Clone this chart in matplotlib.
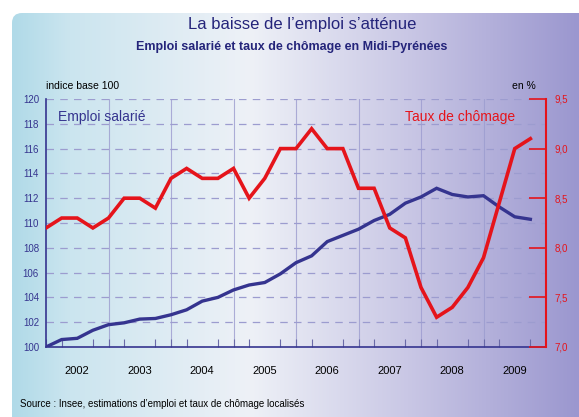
import matplotlib
matplotlib.use('Agg')
import matplotlib.pyplot as plt
import numpy as np
from matplotlib.colors import LinearSegmentedColormap
from matplotlib.patches import FancyBboxPatch

plt.rcParams['font.family'] = ['Liberation Sans', 'DejaVu Sans']

# Data: quarterly values, 2002 Q1 to 2009 Q4
quarters = [2002 + k / 4 for k in range(32)]
emploi = [100.0, 100.6, 100.7, 101.35, 101.8, 101.95, 102.25, 102.3,
          102.6, 103.0, 103.7, 104.0, 104.6, 105.0, 105.2, 105.9,
          106.8, 107.35, 108.5, 109.0, 109.5, 110.2, 110.7, 111.6,
          112.1, 112.8, 112.3, 112.1, 112.2, 111.3, 110.5, 110.3]
chomage = [8.2, 8.3, 8.3, 8.2, 8.3, 8.5, 8.5, 8.4,
           8.7, 8.8, 8.7, 8.7, 8.8, 8.5, 8.7, 9.0,
           9.0, 9.2, 9.0, 9.0, 8.6, 8.6, 8.2, 8.1,
           7.6, 7.3, 7.4, 7.6, 7.9, 8.45, 9.0, 9.1]
years = list(range(2002, 2010))
left_ticks = list(range(100, 121, 2))
right_ticks = [7.0, 7.5, 8.0, 8.5, 9.0, 9.5]

navy = '#35348f'
red = '#e5141b'
grid_col = '#9c9ccf'

W, H = 579, 417
fig = plt.figure(figsize=(W / 100, H / 100), dpi=100)

# background panel with horizontal gradient
bg = fig.add_axes([0, 0, 1, 1], zorder=-10)
bg.set_xlim(0, W)
bg.set_ylim(H, 0)
bg.axis('off')
cmap = LinearSegmentedColormap.from_list(
    'bgc', [(0, '#b0dae8'), (0.1, '#cbe5ef'), (0.42, '#eef1f7'),
            (0.7, '#c9c7e5'), (1, '#9b97cf')])
grad = np.linspace(0, 1, 256).reshape(1, -1)
im = bg.imshow(grad, cmap=cmap, aspect='auto', extent=[12, W, H, 13])
panel = FancyBboxPatch((12, 13), W + 20, H + 20,
                       boxstyle='round,pad=0,rounding_size=10',
                       transform=bg.transData, facecolor='none', edgecolor='none')
bg.add_patch(panel)
im.set_clip_path(panel)

# main axes
ax = fig.add_axes([46 / W, 1 - 347 / H, 500 / W, 248 / H])
ax.patch.set_alpha(0)
ax.set_xlim(2002, 2010)
ax.set_ylim(100, 120)

for v in left_ticks[1:]:
    ax.axhline(v, color=grid_col, lw=0.9, ls=(0, (6, 5)), zorder=1)
for yr in years[1:]:
    ax.axvline(yr, color=grid_col, lw=0.8, alpha=0.8, zorder=1)

ax.plot(quarters, emploi, color=navy, lw=2.4, zorder=3, solid_joinstyle='miter')

ax.set_yticks(left_ticks)
ax.set_yticklabels([str(v) for v in left_ticks], fontsize=7, color=navy)
ax.tick_params(axis='y', length=0, pad=5)
ax.set_xticks([y + 0.5 for y in years])
ax.set_xticklabels([str(y) for y in years], fontsize=8)
ax.set_xticks(quarters, minor=True)
ax.tick_params(axis='x', which='major', length=0, pad=14)
ax.tick_params(axis='x', which='minor', direction='in', length=6,
               color='#6a6aa8', width=0.8)
for s in ['top', 'right']:
    ax.spines[s].set_visible(False)
ax.spines['left'].set_color(navy)
ax.spines['bottom'].set_color(navy)
ax.spines['left'].set_linewidth(1.2)
ax.spines['bottom'].set_linewidth(1.2)

ax2 = ax.twinx()
ax2.set_ylim(7.0, 9.5)
ax2.plot(quarters, chomage, color=red, lw=2.6, zorder=4, solid_joinstyle='miter')
ax2.set_yticks(right_ticks)
ax2.set_yticklabels([f'{v:.1f}'.replace('.', ',') for v in right_ticks],
                    fontsize=7, color=red)
ax2.tick_params(axis='y', direction='in', length=12, width=1.2, color=red, pad=6)
for s in ['top', 'left', 'bottom']:
    ax2.spines[s].set_visible(False)
ax2.spines['right'].set_color(red)
ax2.spines['right'].set_linewidth(1.5)

# texts
fig.text(302 / W, 1 - 24 / H, 'La baisse de l\u2019emploi s\u2019atténue',
         ha='center', va='center', fontsize=12, color='#24247a')
fig.text(292 / W, 1 - 47 / H, 'Emploi salarié et taux de chômage en Midi-Pyrénées',
         ha='center', va='center', fontsize=9, fontweight='bold', color='#24247a')
fig.text(46 / W, 1 - 86 / H, 'indice base 100', ha='left', va='center',
         fontsize=7.5, color='black')
fig.text(536 / W, 1 - 86 / H, 'en %', ha='right', va='center',
         fontsize=7.5, color='black')
fig.text(58 / W, 1 - 117 / H, 'Emploi salarié', ha='left', va='center',
         fontsize=10, color=navy)
fig.text(405 / W, 1 - 117 / H, 'Taux de chômage', ha='left', va='center',
         fontsize=10, color=red)
fig.text(20 / W, 1 - 404 / H,
         'Source : Insee, estimations d\u2019emploi et taux de chômage localisés',
         ha='left', va='center', fontsize=7, color='black')

fig.savefig('out.png', dpi=100)
